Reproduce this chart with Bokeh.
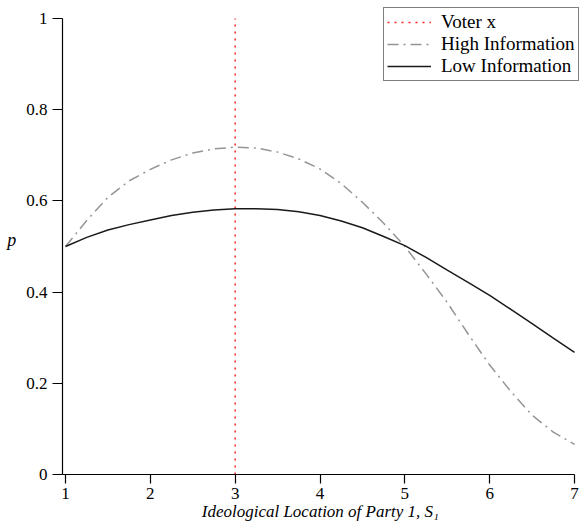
from bokeh.plotting import figure
from bokeh.models import Range1d, FixedTicker, Legend, LegendItem
from bokeh.embed import file_html
from bokeh.resources import INLINE

# ---- data ----
x_vals = [1.0, 1.25, 1.5, 1.75, 2.0, 2.25, 2.5, 2.75, 3.0, 3.25, 3.5, 3.75, 4.0,
          4.25, 4.5, 4.75, 5.0, 5.25, 5.5, 5.75, 6.0, 6.25, 6.5, 6.75, 7.0]
high_info = [0.500, 0.557, 0.608, 0.644, 0.669, 0.690, 0.705, 0.714, 0.718, 0.716, 0.707, 0.692, 0.670,
             0.638, 0.597, 0.551, 0.500, 0.440, 0.377, 0.307, 0.240, 0.182, 0.130, 0.093, 0.066]
low_info = [0.500, 0.520, 0.536, 0.548, 0.558, 0.568, 0.575, 0.580, 0.583, 0.583, 0.581, 0.576, 0.568,
            0.556, 0.541, 0.522, 0.502, 0.476, 0.448, 0.421, 0.393, 0.362, 0.331, 0.299, 0.268]
voter_x = 3
x_ticks = [1, 2, 3, 4, 5, 6, 7]
y_ticks = [0, 0.2, 0.4, 0.6, 0.8, 1]
y_tick_labels = ["0", "0.2", "0.4", "0.6", "0.8", "1"]
series_labels = ["Voter x", "High Information", "Low Information"]
x_title = "Ideological Location of Party 1,  S\u2081"
y_title = "p"

SERIF = "Liberation Serif"
X0, X1, X1_VIEW = 0.9646, 7, 7.094
Y1_VIEW = 1.0307

p = figure(width=582, height=527,
           x_range=Range1d(X0, X1_VIEW), y_range=Range1d(0, Y1_VIEW),
           output_backend="svg", toolbar_location=None,
           min_border_left=62, min_border_right=0,
           min_border_top=4, min_border_bottom=53)

p.grid.visible = False
p.outline_line_color = None
p.background_fill_color = "white"
p.border_fill_color = "white"

r_voter = p.line([voter_x, voter_x], [0, 1], line_color="#ff2020",
                 line_width=1.5, line_dash="2 5")
r_high = p.line(x_vals, high_info, line_color="#959595", line_width=1.5,
                line_dash="11 5 2 5")
r_low = p.line(x_vals, low_info, line_color="#1a1a1a", line_width=1.5)

for ax in (p.xaxis[0], p.yaxis[0]):
    ax.axis_line_color = "black"
    ax.axis_line_width = 1.2
    ax.major_tick_line_color = "black"
    ax.major_tick_line_width = 1.2
    ax.major_tick_in = 0
    ax.minor_tick_line_color = None
    ax.major_label_text_font = SERIF
    ax.major_label_text_font_size = "17px"
    ax.major_label_text_color = "black"
    ax.axis_label_text_font = SERIF
    ax.axis_label_text_font_style = "italic"
    ax.axis_label_text_color = "black"

p.xaxis.bounds = (X0, X1)
p.xaxis.ticker = FixedTicker(ticks=x_ticks)
p.xaxis.major_tick_out = 9
p.xaxis.major_label_standoff = 4
p.xaxis.axis_label = x_title
p.xaxis.axis_label_text_font_size = "17px"
p.xaxis.axis_label_standoff = 0

p.yaxis.bounds = (0, 1)
p.yaxis.ticker = FixedTicker(ticks=y_ticks)
p.yaxis.major_label_overrides = {t: s for t, s in zip(y_ticks, y_tick_labels)}
p.yaxis.major_tick_out = 10
p.yaxis.major_label_standoff = 5
p.yaxis.axis_label = y_title
p.yaxis.axis_label_text_font_size = "18px"
p.yaxis.axis_label_standoff = 7
try:
    p.yaxis.axis_label_orientation = "horizontal"
except Exception:
    pass

legend = Legend(items=[LegendItem(label=series_labels[0], renderers=[r_voter]),
                       LegendItem(label=series_labels[1], renderers=[r_high]),
                       LegendItem(label=series_labels[2], renderers=[r_low])],
                location=(321, 393))
legend.border_line_color = "black"
legend.border_line_width = 1
legend.background_fill_color = "white"
legend.background_fill_alpha = 1
legend.label_text_font = SERIF
legend.label_text_font_size = "19px"
legend.label_text_color = "black"
legend.glyph_width = 44
legend.glyph_height = 20
legend.label_height = 21
legend.spacing = 0
legend.padding = 3
legend.margin = 0
legend.label_standoff = 10
p.add_layout(legend)

open("out.html", "w").write(file_html(p, INLINE))
